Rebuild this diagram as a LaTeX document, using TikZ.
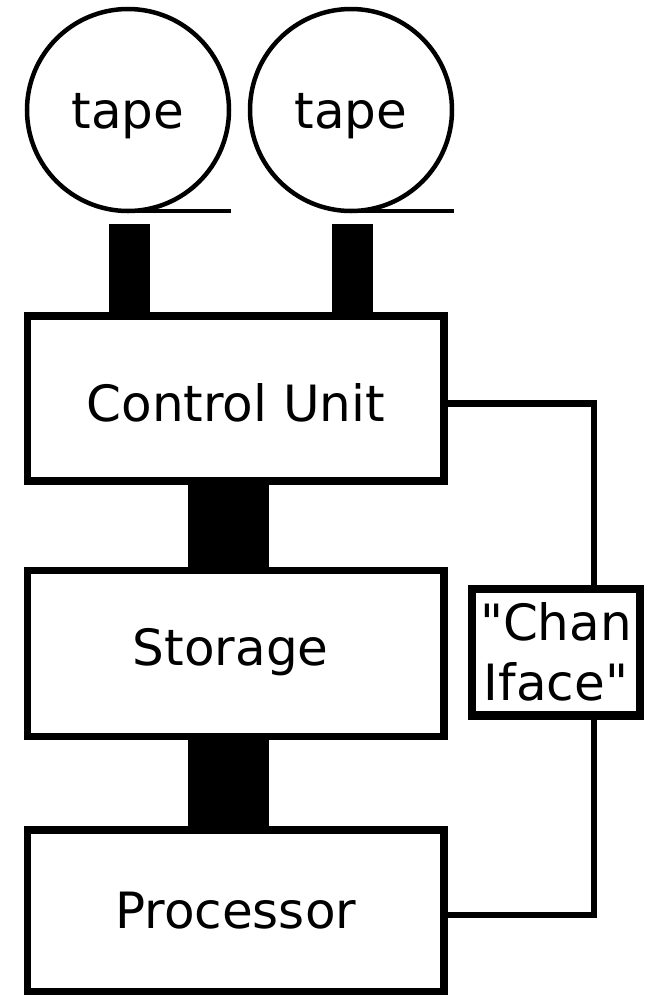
\documentclass[tikz,border=0pt]{standalone}
\usepackage{fontspec}
\newfontfamily\dejavu{DejaVu Sans}
\begin{document}
\begin{tikzpicture}[x=1pt,y=-1pt,
  every node/.style={font=\dejavu\fontsize{50}{60}\selectfont, inner sep=0pt, outer sep=0pt},
  reel/.style={draw, circle, line width=4.5pt, minimum size=202pt, text height=36pt, text depth=0pt},
  blk/.style={draw, rectangle, line width=7.5pt, minimum width=416.5pt},
  chanbox/.style={draw, rectangle, line width=8.5pt, minimum width=168pt, minimum height=126.5pt, align=center},
  tapeline/.style={line width=4.5pt},
  bus/.style={line width=41pt},
  widebus/.style={line width=81pt},
  wire/.style={line width=6.3pt}
]
\useasboundingbox (0,0) rectangle (650,997);

\node[reel] (t1) at (128,110) {tape};
\node[reel] (t2) at (351,110) {tape};

\node[blk, minimum height=165pt, text height=46pt, text depth=0pt] (cu) at (235.75,398.5) {Control Unit};
\node[blk, minimum height=166pt, text height=36pt, text depth=12pt] (st) at (235.75,653.5) {Storage\kern10pt};
\node[blk, minimum height=161.5pt, text height=36pt, text depth=1pt] (pr) at (235.75,910.75) {Processor};

\node[chanbox] (ch) at (556,652.25) {"Chan\\Iface"};

% tape leaders
\draw[tapeline] (t1.south) -- ([xshift=2pt]t1.south -| t1.east);
\draw[tapeline] (t2.south) -- ([xshift=2pt]t2.south -| t2.east);

% tape buses
\draw[bus] ([xshift=1.5pt,yshift=-12.8pt]t1.south) -- ([xshift=1.5pt]t1.south |- cu.north);
\draw[bus] ([xshift=1.5pt,yshift=-12.8pt]t2.south) -- ([xshift=1.5pt]t2.south |- cu.north);

% internal buses
\draw[widebus] ([xshift=-7pt]cu.south) -- ([xshift=-7pt]st.north);
\draw[widebus] ([xshift=-7pt]st.south) -- ([xshift=-7pt]pr.north);

% channel interface wires
\draw[wire] ([yshift=-5pt]cu.east) -| ([xshift=38pt]ch.north);
\draw[wire] ([yshift=-4pt]pr.east) -| ([xshift=38pt]ch.south);
\end{tikzpicture}
\end{document}
